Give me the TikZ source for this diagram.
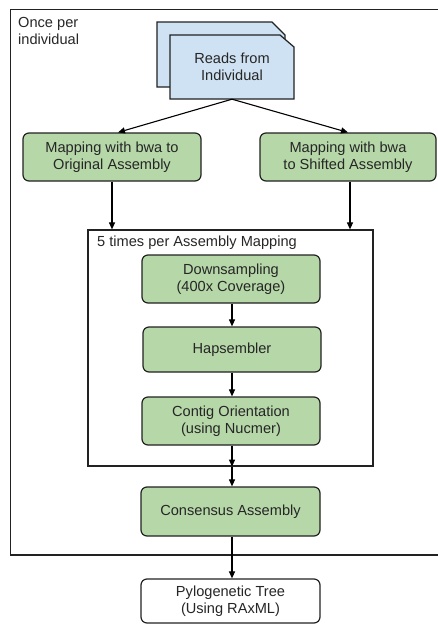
\documentclass[tikz,border=0pt]{standalone}
\usepackage{fontspec}
\setmainfont{Liberation Sans}
\usetikzlibrary{arrows.meta,calc}
\definecolor{boxgreen}{HTML}{B6D7A8}
\definecolor{docblue}{HTML}{CFE2F3}
\definecolor{edge}{HTML}{222222}
\begin{document}
\begin{tikzpicture}[x=1pt,y=-1pt,
  every node/.style={font=\fontsize{14.6}{16.8}\selectfont, text=black!85},
  stepbox/.style={draw=edge, line width=1.2pt, fill=boxgreen, rounded corners=6pt, align=center, inner sep=0pt},
  whitebox/.style={draw=edge, line width=1.2pt, fill=white, rounded corners=6pt, align=center, inner sep=0pt},
  conn/.style={draw=black, line width=1.1pt, -{Triangle[length=7pt,width=6pt]}},
  frame/.style={draw=edge, line width=1.4pt}]
\useasboundingbox (0,0) rectangle (437,624);
% outer frame (right side beyond picture)
\draw[frame] (445,9.5) -- (10.5,9.5) -- (10.5,555) -- (445,555);
\node[anchor=north west, align=left, inner sep=0pt] (once) at (18,17) {Once per\\individual};
% document shape
\draw[draw=edge, line width=1.2pt, fill=docblue] (157,22) -- (272,22) -- (285,35) -- (285,87) -- (157,87) -- cycle;
\draw[draw=edge, line width=1.2pt, fill=docblue] (170,35) -- (280,35) -- (294,47) -- (294,99) -- (170,99) -- cycle;
\node[minimum width=124pt, minimum height=64pt, inner sep=0pt, align=center] (reads) at (232,67) {Reads from\\Individual};
% mapping boxes
\node[stepbox, minimum width=178pt, minimum height=48pt] (map1) at (112,157) {Mapping with bwa to\\Original Assembly};
\node[stepbox, minimum width=176pt, minimum height=48pt] (map2) at (348,157) {Mapping with bwa\\to Shifted Assembly};
% inner frame
\node[draw=edge, line width=1.2pt, minimum width=285pt, minimum height=236pt, inner sep=0pt] (inner) at (230.5,348) {};
\node[anchor=north west, inner sep=0pt] (five) at (97,236) {5 times per Assembly Mapping};
\node[stepbox, minimum width=178pt, minimum height=48pt] (down) at (231,279) {Downsampling\\(400x Coverage)};
\node[stepbox, minimum width=178pt, minimum height=45pt] (hap) at (232,349.5) {Hapsembler};
\node[stepbox, minimum width=178pt, minimum height=48pt] (contig) at (231,421) {Contig Orientation\\(using Nucmer)};
\node[stepbox, minimum width=179pt, minimum height=49pt] (cons) at (230.5,511.5) {Consensus Assembly};
\node[whitebox, minimum width=179pt, minimum height=44pt] (tree) at (230.5,601) {Pylogenetic Tree\\(Using RAxML)};
% connectors
\draw[conn] (reads.south) -- ([xshift=6pt]map1.north);
\draw[conn] (reads.south) -- (map2.north);
\draw[conn] (map1.south) -- (map1.south |- inner.north);
\draw[conn] ([xshift=2pt]map2.south) -- ([xshift=2pt]map2.south |- inner.north);
\draw[conn] (down.south -| hap.north) -- (hap.north);
\draw[conn] (hap.south) -- (hap.south |- contig.north);
\draw[conn] (contig.south -| 232,0) -- (232,0 |- inner.south) coordinate (ib);
\draw[conn] (ib) -- (ib |- cons.north);
\draw[conn] (cons.south -| 232,0) -- (232,0 |- tree.north);
\end{tikzpicture}
\end{document}
